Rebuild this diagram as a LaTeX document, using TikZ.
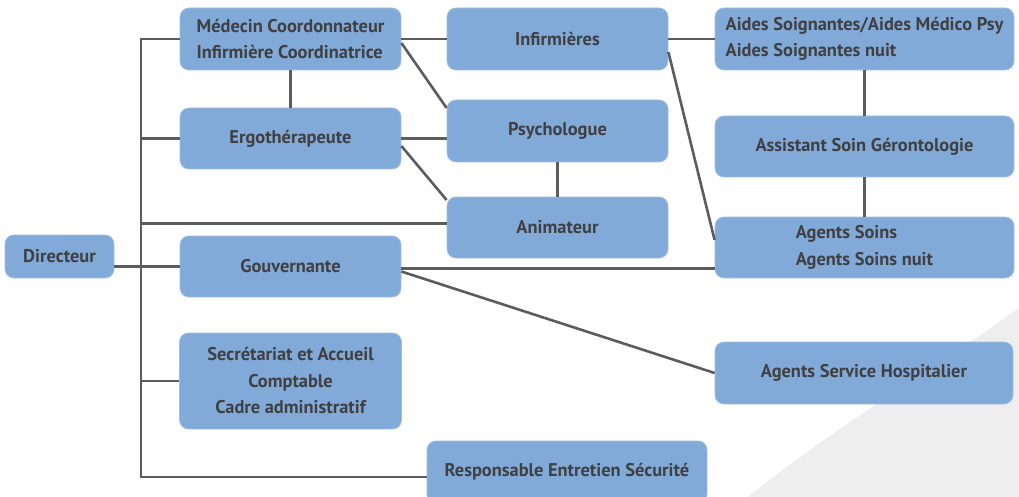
\documentclass[tikz,border=0pt]{standalone}
\usepackage{fontspec}
\setmainfont{PT Sans}
\usepackage{tikz}
\definecolor{boxblue}{RGB}{129,170,216}
\definecolor{textgrey}{RGB}{64,64,66}
\definecolor{linegrey}{RGB}{92,92,94}
\definecolor{shadegrey}{RGB}{238,238,238}

\begin{document}
\begin{tikzpicture}[x=1pt,y=-1pt]
 \tikzstyle{orgbox} = [draw=boxblue!75!white,line width=0.8pt,fill=boxblue,rounded corners=9pt,text=textgrey,
   font=\fontsize{18.4}{26.5}\selectfont\bfseries,inner sep=0pt,minimum height=62pt]
 \tikzstyle{link} = [draw=linegrey,line width=2.6pt]
 \useasboundingbox (0,0) rectangle (1019,497);
 \fill[shadegrey] (1019,308) .. controls (940,365) and (830,430) .. (748,497) -- (1019,497) -- cycle;

 % boxes
 \node[orgbox,minimum width=109pt,minimum height=43pt] (dir) at (59.5,256.5) {Directeur};
 \node[orgbox,minimum width=221pt,align=left] (med) at (290.5,39) {Médecin Coordonnateur\\Infirmière Coordinatrice};
 \node[orgbox,minimum width=221pt,minimum height=61pt] (ergo) at (290.5,138.5) {Ergothérapeute};
 \node[orgbox,minimum width=221pt,minimum height=61pt] (gouv) at (290.5,266.5) {Gouvernante};
 \node[orgbox,minimum width=222pt,minimum height=96pt,align=center] (secr) at (290.5,381) {Secrétariat et Accueil\\Comptable\\Cadre administratif};
 \node[orgbox,minimum width=221pt] (inf) at (557.5,39) {Infirmières};
 \node[orgbox,minimum width=221pt] (psy) at (557.5,131) {Psychologue};
 \node[orgbox,minimum width=221pt,minimum height=61pt] (anim) at (557.5,227.5) {Animateur};
 \node[orgbox,minimum width=299pt,align=left] (aides) at (864.5,39) {Aides Soignantes/Aides Médico Psy\\Aides Soignantes nuit};
 \node[orgbox,minimum width=299pt,minimum height=61pt] (asg) at (864.5,146.5) {Assistant Soin Gérontologie};
 \node[orgbox,minimum width=299pt,minimum height=61pt,align=left] (ags) at (864.5,247.5) {Agents Soins\\Agents Soins nuit};
 \node[orgbox,minimum width=298pt] (ash) at (864,373) {Agents Service Hospitalier};
 \node[orgbox,minimum width=280pt] (resp) at (567,472) {Responsable Entretien Sécurité};

 % left trunk
 \coordinate (ttop) at (141,39);
 \coordinate (tbot) at (141,477);
 \draw[link] (med.west) -- (ttop) -- (tbot) -- (tbot -| resp.west);
 \draw[link] (ergo.west) -- (ergo.west -| ttop);
 \draw[link] ([yshift=4pt]anim.west) -- ([yshift=4pt]anim.west -| ttop);
 \draw[link] (secr.west) -- (secr.west -| ttop);
 \draw[link] (dir.east |- gouv.west) -- (gouv.west);

 % links between services
 \draw[link] (med.south) -- (ergo.north);
 \draw[link] (med.east) -- (inf.west);
 \draw[link] ([yshift=-4pt]med.east) -- ([yshift=23pt]psy.west);
 \draw[link] (ergo.east) -- (ergo.east -| psy.west);
 \draw[link] ([yshift=-7.5pt]ergo.east) -- ([yshift=27.5pt]anim.west);
 \draw[link] (psy.south) -- (anim.north);
 \draw[link] (inf.east) -- (aides.west);
 \draw[link] ([yshift=-13pt]inf.east) -- ([yshift=7.5pt]ags.west);
 \draw[link] (aides.south) -- (asg.north);
 \draw[link] (asg.south) -- (ags.north);
 \draw[link] ([yshift=-2pt]gouv.east) -- ([yshift=-2pt]gouv.east -| ags.west);
 \draw[link] ([yshift=-5pt]gouv.east) -- (ash.west);
\end{tikzpicture}
\end{document}
